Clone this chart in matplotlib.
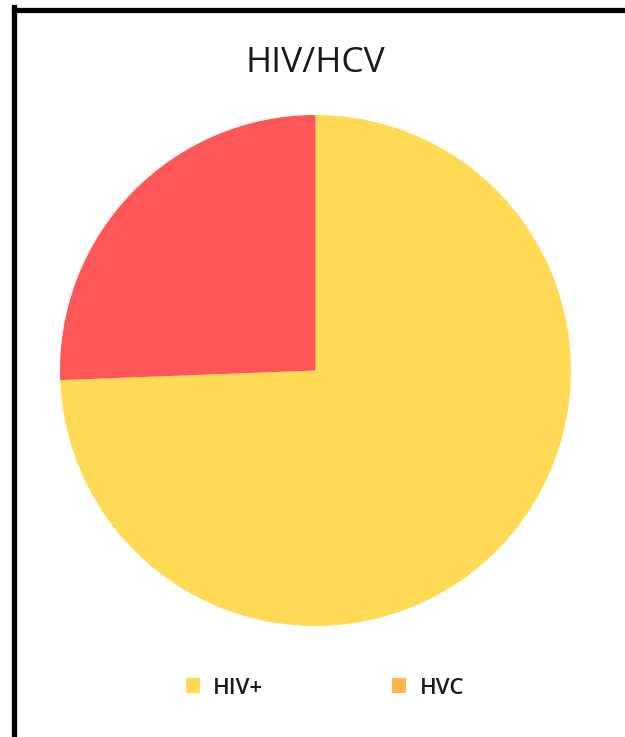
import matplotlib.pyplot as plt
from matplotlib.patches import Patch
from matplotlib.lines import Line2D

# slice shares (percent)
labels = ["HIV+", "HVC"]
values = [74.4, 25.6]
slice_colors = ["#FFDA55", "#FF5757"]
legend_colors = ["#FFDA55", "#FFB74D"]

W, H = 625, 737
fig = plt.figure(figsize=(W / 100, H / 100), dpi=100)
fig.patch.set_facecolor("white")

# pie axes: centre (315.5, 370.5) px, radius 255.5 px
cx, cy, r = 315.5, 370.5, 255.5
ax = fig.add_axes([(cx - r) / W, (H - cy - r) / H, 2 * r / W, 2 * r / H])
ax.pie(values, colors=slice_colors, startangle=90, counterclock=False,
       radius=1, wedgeprops=dict(linewidth=0))
ax.set_xlim(-1, 1)
ax.set_ylim(-1, 1)
ax.set_aspect("equal")
ax.axis("off")

fig.text(315 / W, 1 - 63 / H, "HIV/HCV", ha="center", va="center",
         fontsize=25.5, family="Open Sans", color="#1a1a1a")

handles = [Patch(facecolor=c, edgecolor="none") for c in legend_colors]
fig.legend(handles, labels, loc="center", bbox_to_anchor=(325 / W, 1 - 688 / H),
           ncol=2, frameon=False,
           prop=dict(family="Open Sans", size=16, weight="semibold"),
           handlelength=0.64, handleheight=0.64, handletextpad=0.6,
           columnspacing=5.8, labelcolor="#1a1a1a")

# black frame on left and top edges
fig.add_artist(Line2D([13.5 / W, 13.5 / W], [0, 1 - 7 / H], color="black",
                      linewidth=3.8, transform=fig.transFigure,
                      solid_capstyle="projecting"))
fig.add_artist(Line2D([13.5 / W, 1], [1 - 9.5 / H, 1 - 9.5 / H], color="black",
                      linewidth=3.8, transform=fig.transFigure))

fig.savefig("out.png", dpi=100)
